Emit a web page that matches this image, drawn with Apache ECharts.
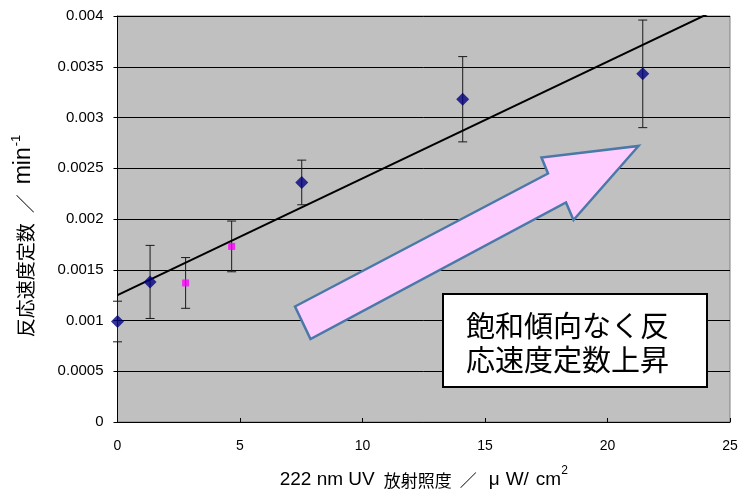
<!DOCTYPE html>
<html>
<head>
<meta charset="utf-8">
<script src="https://cdn.jsdelivr.net/npm/echarts@6/dist/echarts.min.js"></script>
<style>html,body{margin:0;padding:0;background:#fff}#c{width:740px;height:493px}</style>
</head>
<body>
<div id="c"></div>
<script>
// Data
var seriesA_x   = [0, 1.33, 7.52, 14.09, 21.44];              // navy diamonds
var seriesA_y   = [0.00099, 0.00138, 0.00236, 0.00318, 0.00343];
var seriesA_err = [0.0002, 0.00036, 0.00022, 0.00042, 0.00053];
var seriesB_x   = [2.78, 4.66];                               // magenta squares
var seriesB_y   = [0.00137, 0.00173];
var seriesB_err = [0.00025, 0.00025];
var trendX = [0, 25];
var trendY = [0.00125, 0.004125];
var xTicks = [0, 5, 10, 15, 20, 25];
var yTicks = [0, 0.0005, 0.001, 0.0015, 0.002, 0.0025, 0.003, 0.0035, 0.004];
var boxText = ['飽和傾向なく反', '応速度定数上昇'];

var ptsA = seriesA_x.map(function (x, i) { return [x, seriesA_y[i]]; });
var ptsB = seriesB_x.map(function (x, i) { return [x, seriesB_y[i]]; });
var errs = ptsA.map(function (p, i) { return [p[0], p[1] - seriesA_err[i], p[1] + seriesA_err[i]]; })
  .concat(ptsB.map(function (p, i) { return [p[0], p[1] - seriesB_err[i], p[1] + seriesB_err[i]]; }));
var trend = trendX.map(function (x, i) { return [x, trendY[i]]; });

var CJK = 'Noto Sans CJK JP';
var LAT = 'Liberation Sans';

function tok(family, size, lh, extra) {
  var o = { fontFamily: family, fontSize: size, color: '#000', lineHeight: lh, verticalAlign: 'bottom' };
  for (var k in extra) o[k] = extra[k];
  return o;
}

var chart = echarts.init(document.getElementById('c'), null, { renderer: 'canvas' });
var option = {
  animation: false,
  backgroundColor: '#ffffff',
  grid: {
    left: 117.5, right: 10, top: 16, bottom: 71,
    outerBoundsMode: 'none', containLabel: false,
    show: true, backgroundColor: '#C0C0C0', borderColor: '#808080', borderWidth: 1
  },
  xAxis: {
    type: 'value', min: xTicks[0], max: xTicks[xTicks.length - 1], interval: xTicks[1] - xTicks[0],
    name: '{a|222 nm UV}{b|放射照度}{c|／}{d|μ}{e|W/}{f|cm}{s|2}',
    nameLocation: 'middle', nameGap: 43,
    nameTextStyle: {
      rich: {
        a: tok(LAT, 19, 24, { padding: [0, 9, 0, 0] }),
        b: tok(CJK, 17, 24, {}),
        c: tok(CJK, 17, 24, { padding: [0, 12, 0, 8] }),
        d: tok(LAT, 19, 24, { padding: [0, 6, 0, 0] }),
        e: tok(LAT, 19, 24, { padding: [0, 7, 0, 0] }),
        f: tok(LAT, 19, 24, {}),
        s: tok(LAT, 12, 24, { verticalAlign: 'top' })
      }
    },
    axisLine: { show: true, lineStyle: { color: '#000', width: 1 } },
    axisTick: { show: true, inside: true, length: 4, lineStyle: { color: '#000' } },
    axisLabel: { margin: 17, color: '#000', fontSize: 14, fontFamily: LAT },
    splitLine: { show: false }
  },
  yAxis: {
    type: 'value', min: yTicks[0], max: yTicks[yTicks.length - 1], interval: yTicks[1] - yTicks[0],
    name: '{a|反応速度定数}{b|／}{c|min}{s|-1}',
    nameLocation: 'middle', nameGap: 82, nameRotate: 90,
    nameTextStyle: {
      rich: {
        a: tok(CJK, 19, 26, {}),
        b: tok(CJK, 19, 26, { padding: [0, 10, 0, 10] }),
        c: tok(LAT, 23, 26, {}),
        s: tok(LAT, 13, 26, { verticalAlign: 'top', padding: [0, 34, 0, 1] })
      }
    },
    axisLine: { show: true, lineStyle: { color: '#000', width: 1 } },
    axisTick: { show: true, inside: false, length: 4, lineStyle: { color: '#000' } },
    axisLabel: {
      margin: 14, color: '#000', fontSize: 15, fontFamily: LAT,
      formatter: function (v) { var i = yTicks.indexOf(v); return i >= 0 ? String(yTicks[i]) : ''; }
    },
    splitLine: { show: true, lineStyle: { color: '#000', width: 1 } }
  },
  series: [
    {
      type: 'custom', name: 'err', z: 3,
      data: errs,
      renderItem: function (params, api) {
        var x = api.value(0);
        var lo = api.coord([x, api.value(1)]);
        var hi = api.coord([x, api.value(2)]);
        var w = 4.5;
        var st = { stroke: '#1a1a1a', lineWidth: 1 };
        return {
          type: 'group',
          children: [
            { type: 'line', shape: { x1: lo[0], y1: lo[1], x2: hi[0], y2: hi[1] }, style: st },
            { type: 'line', shape: { x1: lo[0] - w, y1: lo[1], x2: lo[0] + w, y2: lo[1] }, style: st },
            { type: 'line', shape: { x1: hi[0] - w, y1: hi[1], x2: hi[0] + w, y2: hi[1] }, style: st }
          ]
        };
      },
      clip: false
    },
    {
      type: 'line', name: 'trend', z: 4, data: trend, showSymbol: false, clip: true,
      lineStyle: { color: '#000', width: 2 }
    },
    {
      type: 'scatter', name: 'A', z: 5, data: ptsA, symbol: 'diamond', symbolSize: [13, 13],
      itemStyle: { color: '#000080' }, clip: false
    },
    {
      type: 'scatter', name: 'B', z: 5, data: ptsB, symbol: 'rect', symbolSize: [7, 7],
      itemStyle: { color: '#FF00FF' }, clip: false
    }
  ],
  graphic: [
    {
      type: 'polygon', z: 10,
      shape: { points: [[295, 306.5], [548, 173.5], [541.5, 157.5], [638.5, 146], [573.5, 220], [566, 202.5], [310.5, 339]] },
      style: { fill: '#FFCCFF', stroke: '#4A78A8', lineWidth: 2.5, lineJoin: 'miter' }
    },
    {
      type: 'rect', z: 10,
      shape: { x: 443, y: 294, width: 264, height: 93 },
      style: { fill: '#ffffff', stroke: '#000', lineWidth: 2 }
    },
    {
      type: 'text', z: 11, left: 466, top: 311,
      style: { text: boxText[0], fontSize: 29, fontFamily: CJK, fill: '#000' }
    },
    {
      type: 'text', z: 11, left: 466, top: 345,
      style: { text: boxText[1], fontSize: 29, fontFamily: CJK, fill: '#000' }
    }
  ]
};
chart.setOption(option);
</script>
</body>
</html>
